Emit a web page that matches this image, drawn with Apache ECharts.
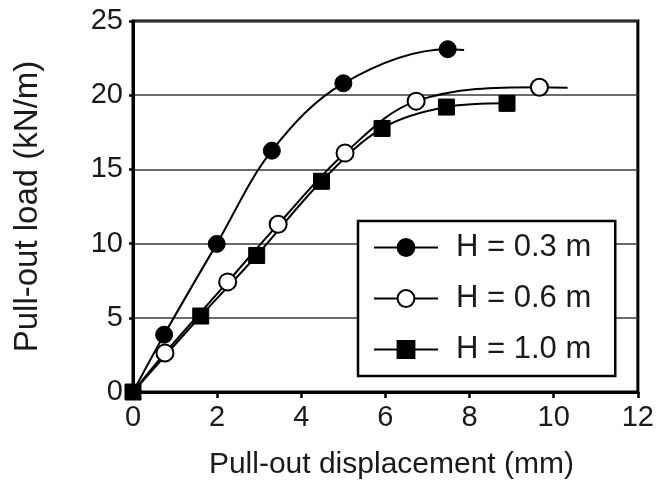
<!DOCTYPE html>
<html>
<head>
<meta charset="utf-8">
<script src="https://cdn.jsdelivr.net/npm/echarts@6/dist/echarts.min.js"></script>
<style>html,body{margin:0;padding:0;background:#fff}#c{width:657px;height:485px}</style>
</head>
<body>
<div id="c"></div>
<script>
// Data (x: displacement mm, y: load kN/m)
var seriesNames = ['H = 0.3 m', 'H = 0.6 m', 'H = 1.0 m'];
var h03 = [[0, 0], [0.74, 3.86], [1.99, 9.98], [3.30, 16.26], [5.00, 20.8], [7.48, 23.1]];
var h03Tail = [7.87, 23.05];
var h06 = [[0, 0], [0.76, 2.63], [2.25, 7.42], [3.45, 11.3], [5.04, 16.1], [6.73, 19.6], [9.66, 20.54]];
var h06Tail = [10.33, 20.5];
var h10 = [[0, 0], [1.61, 5.12], [2.94, 9.2], [4.48, 14.2], [5.92, 17.76], [7.45, 19.2], [8.89, 19.45]];
var xTicks = [0, 2, 4, 6, 8, 10, 12];
var yTicks = [0, 5, 10, 15, 20, 25];

function build(points, tail, hideOrigin) {
  var out = points.map(function (p, i) {
    if (i === 0 && hideOrigin) return { value: p, symbol: 'none' };
    return { value: p };
  });
  if (tail) out.push({ value: tail, symbol: 'none' });
  return out;
}

var FONT = 'Liberation Sans';
var TXT = '#1a1a1a';
var chart = echarts.init(document.getElementById('c'));
chart.setOption({
  animation: false,
  grid: { left: 133, right: 16, top: 21, bottom: 90, show: true, borderColor: '#000', borderWidth: 3, backgroundColor: 'transparent' },
  xAxis: {
    type: 'value', min: xTicks[0], max: xTicks[xTicks.length - 1], interval: 2,
    name: 'Pull-out displacement (mm)', nameLocation: 'middle', nameGap: 58,
    nameTextStyle: { fontFamily: FONT, fontSize: 30, color: TXT, padding: [0, 0, 0, 12] },
    axisLine: { show: true, lineStyle: { color: '#000', width: 3 } },
    axisTick: { show: true, length: 6, lineStyle: { color: '#000', width: 2.5 } },
    axisLabel: { fontFamily: FONT, fontSize: 29, color: TXT, margin: 11 },
    splitLine: { show: false }
  },
  yAxis: {
    type: 'value', min: yTicks[0], max: yTicks[yTicks.length - 1], interval: 5,
    name: 'Pull-out load (kN/m)', nameLocation: 'middle', nameGap: 89, nameRotate: 90,
    nameTextStyle: { fontFamily: FONT, fontSize: 33, color: TXT },
    axisLine: { show: true, lineStyle: { color: '#000', width: 3 } },
    axisTick: { show: true, length: 4, lineStyle: { color: '#000', width: 2.5 } },
    axisLabel: { fontFamily: FONT, fontSize: 29, color: TXT, margin: 10 },
    splitLine: { show: true, lineStyle: { color: '#3a3a3a', width: 1.5 } }
  },
  legend: {
    orient: 'vertical', left: 358, top: 221,
    padding: [11, 24, 11, 15],
    backgroundColor: '#fff', borderColor: '#000', borderWidth: 2.5,
    itemWidth: 64, itemHeight: 21, itemGap: 20,
    textStyle: { fontFamily: FONT, fontSize: 31, color: TXT, lineHeight: 31, padding: [0, 0, 0, 13] },
    data: seriesNames
  },
  series: [
    {
      name: seriesNames[0], type: 'line', smooth: 0.35, data: build(h03, h03Tail, true),
      symbol: 'circle', symbolSize: 17,
      lineStyle: { color: '#000', width: 2 },
      itemStyle: { color: '#000', borderColor: '#000', borderWidth: 1 }
    },
    {
      name: seriesNames[1], type: 'line', smooth: 0.35, data: build(h06, h06Tail, true),
      symbol: 'circle', symbolSize: 17,
      lineStyle: { color: '#000', width: 2 },
      itemStyle: { color: '#fff', borderColor: '#000', borderWidth: 2 }
    },
    {
      name: seriesNames[2], type: 'line', smooth: 0.35, data: build(h10, null, false),
      symbol: 'rect', symbolSize: 16,
      lineStyle: { color: '#000', width: 2 },
      itemStyle: { color: '#000', borderColor: '#000', borderWidth: 1 }
    }
  ]
});
</script>
</body>
</html>
